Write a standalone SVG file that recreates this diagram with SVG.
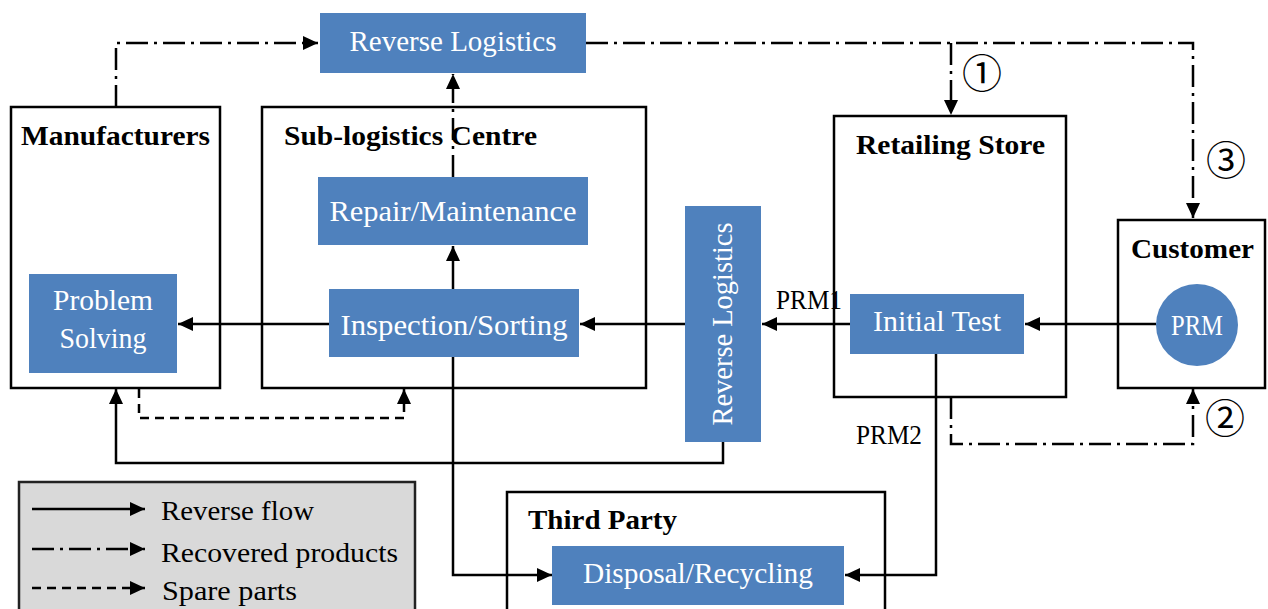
<svg xmlns="http://www.w3.org/2000/svg" width="1268" height="609" viewBox="0 0 1268 609">
<defs>
<marker id="ah" markerUnits="userSpaceOnUse" markerWidth="16" markerHeight="14" refX="15" refY="7" orient="auto">
<path d="M0,0 L15,7 L0,14 Z" fill="#000"/>
</marker>
<style>
.box{fill:#fff;stroke:#000;stroke-width:2.5}
.blue{fill:#4f81bd}
.wt{font-family:"Liberation Serif",serif;font-size:29px;fill:#fff}
.hd{font-family:"Liberation Serif",serif;font-size:28px;font-weight:bold;fill:#000}
.bt{font-family:"Liberation Serif",serif;font-size:27px;fill:#000}
.num{font-family:"Noto Sans CJK JP","DejaVu Sans",sans-serif;font-size:40px;fill:#000}
.c{fill:none;stroke:#000;stroke-width:2.5}
.dd{stroke-dasharray:22 6 3 6}
.da{stroke-dasharray:9 6}
</style>
</defs>
<rect x="0" y="0" width="1268" height="609" fill="#fff"/>

<g id="legend">
<rect x="19" y="482" width="396" height="140" fill="#d9d9d9" stroke="#222" stroke-width="2.5"/>
<line class="c" x1="32" y1="509" x2="145" y2="509" marker-end="url(#ah)"/>
<text class="bt" x="161" y="520" textLength="153" lengthAdjust="spacingAndGlyphs">Reverse flow</text>
<line class="c dd" x1="32" y1="549" x2="145" y2="549" marker-end="url(#ah)"/>
<text class="bt" x="161" y="562" textLength="237" lengthAdjust="spacingAndGlyphs">Recovered products</text>
<line class="c da" x1="32" y1="588" x2="145" y2="588" marker-end="url(#ah)"/>
<text class="bt" x="162" y="600" textLength="135" lengthAdjust="spacingAndGlyphs">Spare parts</text>
</g>

<g id="manufacturers">
<rect class="box" x="11" y="107" width="209" height="281"/>
<text class="hd" x="21" y="145" textLength="189" lengthAdjust="spacingAndGlyphs">Manufacturers</text>
</g>
<g id="problem-solving">
<rect class="blue" x="29" y="274" width="148" height="99"/>
<text class="wt" x="103" y="310" text-anchor="middle" textLength="100" lengthAdjust="spacingAndGlyphs">Problem</text>
<text class="wt" x="103" y="348" text-anchor="middle" textLength="87" lengthAdjust="spacingAndGlyphs">Solving</text>
</g>

<g id="sub-logistics">
<rect class="box" x="262" y="107" width="384" height="281"/>
<text class="hd" x="284" y="145" textLength="253" lengthAdjust="spacingAndGlyphs">Sub-logistics Centre</text>
</g>
<g id="repair">
<rect class="blue" x="318" y="177" width="270" height="68"/>
<text class="wt" x="453" y="221" text-anchor="middle" textLength="247" lengthAdjust="spacingAndGlyphs">Repair/Maintenance</text>
</g>
<g id="inspection">
<rect class="blue" x="329" y="289" width="250" height="68"/>
<text class="wt" x="454" y="335" text-anchor="middle" textLength="227" lengthAdjust="spacingAndGlyphs">Inspection/Sorting</text>
</g>

<g id="reverse-logistics-top">
<rect class="blue" x="320" y="13" width="266" height="60"/>
<text class="wt" x="453" y="51" text-anchor="middle" textLength="207" lengthAdjust="spacingAndGlyphs">Reverse Logistics</text>
</g>

<g id="reverse-logistics-vertical">
<rect class="blue" x="685" y="206" width="76" height="236"/>
<text class="wt" transform="translate(732,324) rotate(-90)" x="0" y="0" text-anchor="middle" textLength="203" lengthAdjust="spacingAndGlyphs">Reverse Logistics</text>
</g>

<g id="retailing-store">
<rect class="box" x="834" y="116" width="232" height="281"/>
<text class="hd" x="856" y="154" textLength="189" lengthAdjust="spacingAndGlyphs">Retailing Store</text>
</g>
<g id="initial-test">
<rect class="blue" x="850" y="294" width="174" height="60"/>
<text class="wt" x="937" y="331" text-anchor="middle" textLength="128" lengthAdjust="spacingAndGlyphs">Initial Test</text>
</g>

<g id="customer">
<rect class="box" x="1118" y="220" width="147" height="168"/>
<text class="hd" x="1131" y="258" textLength="123" lengthAdjust="spacingAndGlyphs">Customer</text>
</g>
<g id="prm">
<circle class="blue" cx="1197" cy="325" r="41"/>
<text class="wt" x="1197" y="335" text-anchor="middle" textLength="52" lengthAdjust="spacingAndGlyphs">PRM</text>
</g>

<g id="third-party">
<rect class="box" x="507" y="492" width="378" height="130"/>
<text class="hd" x="528" y="529" textLength="149" lengthAdjust="spacingAndGlyphs">Third Party</text>
</g>
<g id="disposal">
<rect class="blue" x="552" y="546" width="292" height="59"/>
<text class="wt" x="698" y="583" text-anchor="middle" textLength="230" lengthAdjust="spacingAndGlyphs">Disposal/Recycling</text>
</g>

<g id="connectors">
<polyline class="c dd" points="116,107 116,43 318,43" marker-end="url(#ah)"/>
<polyline class="c dd" points="586,43 1193,43 1193,218" marker-end="url(#ah)"/>
<polyline class="c dd" points="951,43 951,115" marker-end="url(#ah)"/>
<polyline class="c dd" points="453,177 453,74" marker-end="url(#ah)"/>
<polyline class="c" points="453,289 453,246" marker-end="url(#ah)"/>
<polyline class="c" points="329,324 178,324" marker-end="url(#ah)"/>
<polyline class="c" points="685,324 580,324" marker-end="url(#ah)"/>
<polyline class="c" points="850,324 762,324" marker-end="url(#ah)"/>
<polyline class="c" points="1156,324 1025,324" marker-end="url(#ah)"/>
<polyline class="c" points="453,357 453,575 552,575" marker-end="url(#ah)"/>
<polyline class="c" points="936,354 936,575 845,575" marker-end="url(#ah)"/>
<polyline class="c" points="723,442 723,463 116,463 116,389" marker-end="url(#ah)"/>
<polyline class="c da" points="139,389 139,418 404,418 404,389" marker-end="url(#ah)"/>
<polyline class="c dd" points="951,397 951,444 1193,444 1193,389" marker-end="url(#ah)"/>
<text class="bt" x="776" y="309" textLength="66" lengthAdjust="spacingAndGlyphs">PRM1</text>
<text class="bt" x="856" y="444" textLength="66" lengthAdjust="spacingAndGlyphs">PRM2</text>
<text class="num" x="982" y="88" text-anchor="middle">①</text>
<text class="num" x="1226" y="175" text-anchor="middle">③</text>
<text class="num" x="1225" y="433" text-anchor="middle">②</text>
</g>
</svg>
